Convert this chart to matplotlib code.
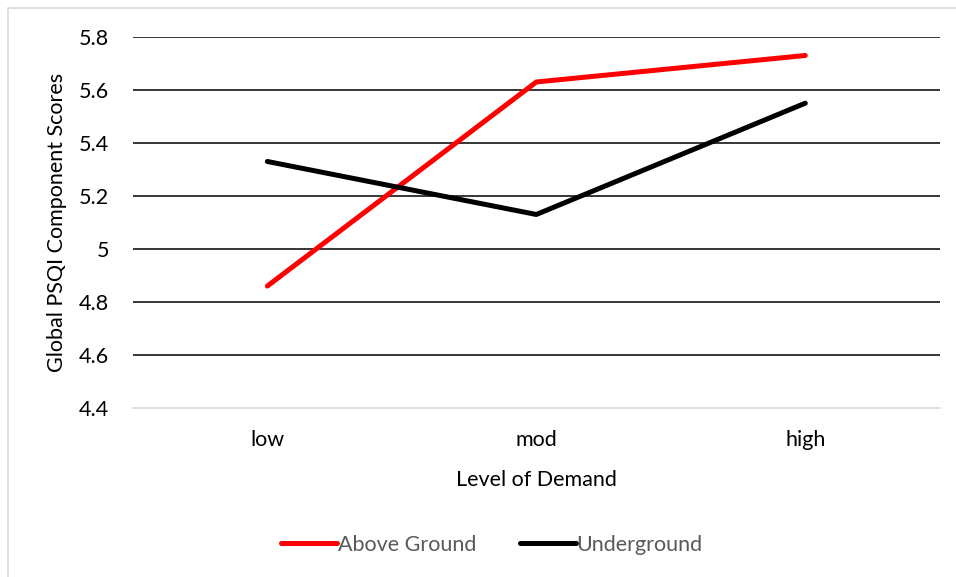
import matplotlib.pyplot as plt
from matplotlib.patches import Rectangle

# Sleep score by level of demand
categories = ['low', 'mod', 'high']
above_ground = [4.86, 5.63, 5.73]
underground = [5.33, 5.13, 5.55]
y_ticks = [4.4, 4.6, 4.8, 5.0, 5.2, 5.4, 5.6, 5.8]
y_tick_labels = ['4.4', '4.6', '4.8', '5', '5.2', '5.4', '5.6', '5.8']

plt.rcParams['font.family'] = ['Lato', 'DejaVu Sans']

fig = plt.figure(figsize=(9.56, 5.77), dpi=100)
ax = fig.add_axes([0.139, 0.293, 0.844, 0.643])

# chart frame
fig.patches.append(Rectangle((8 / 956, -0.01), 1.0, 1 - 8 / 577 + 0.01,
                             transform=fig.transFigure, fill=False,
                             edgecolor='#d9d9d9', linewidth=1.2))

x = range(len(categories))
ax.plot(x, above_ground, color='#ff0000', linewidth=3.6,
        solid_capstyle='round', label='Above Ground', zorder=3)
ax.plot(x, underground, color='black', linewidth=3.6,
        solid_capstyle='round', label='Underground', zorder=3)

ax.set_xlim(-0.5, 2.5)
ax.set_ylim(4.4, 5.8)
ax.set_yticks(y_ticks)
ax.set_yticklabels(y_tick_labels)
ax.set_xticks(list(x))
ax.set_xticklabels(categories)

for y in y_ticks[1:]:
    ax.axhline(y, color='black', linewidth=1.1, zorder=1)

for s in ['top', 'right', 'left']:
    ax.spines[s].set_visible(False)
ax.spines['bottom'].set_color('#d9d9d9')
ax.spines['bottom'].set_linewidth(1.2)
ax.tick_params(length=0, labelsize=15.5, colors='black')
ax.tick_params(axis='y', pad=17)
ax.tick_params(axis='x', pad=16)

ax.set_xlabel('Level of Demand', fontsize=15.5, labelpad=14)
ax.set_ylabel('Global PSQI Component Scores', fontsize=15.5, labelpad=9)

ax.legend(loc='center', bbox_to_anchor=(492 / 956, 1 - 545 / 577),
          bbox_transform=fig.transFigure, ncol=2, frameon=False,
          fontsize=15.5, handlelength=2.6, handletextpad=0.05,
          columnspacing=2.0, labelcolor='#595959')

fig.savefig('out.png', dpi=100)
